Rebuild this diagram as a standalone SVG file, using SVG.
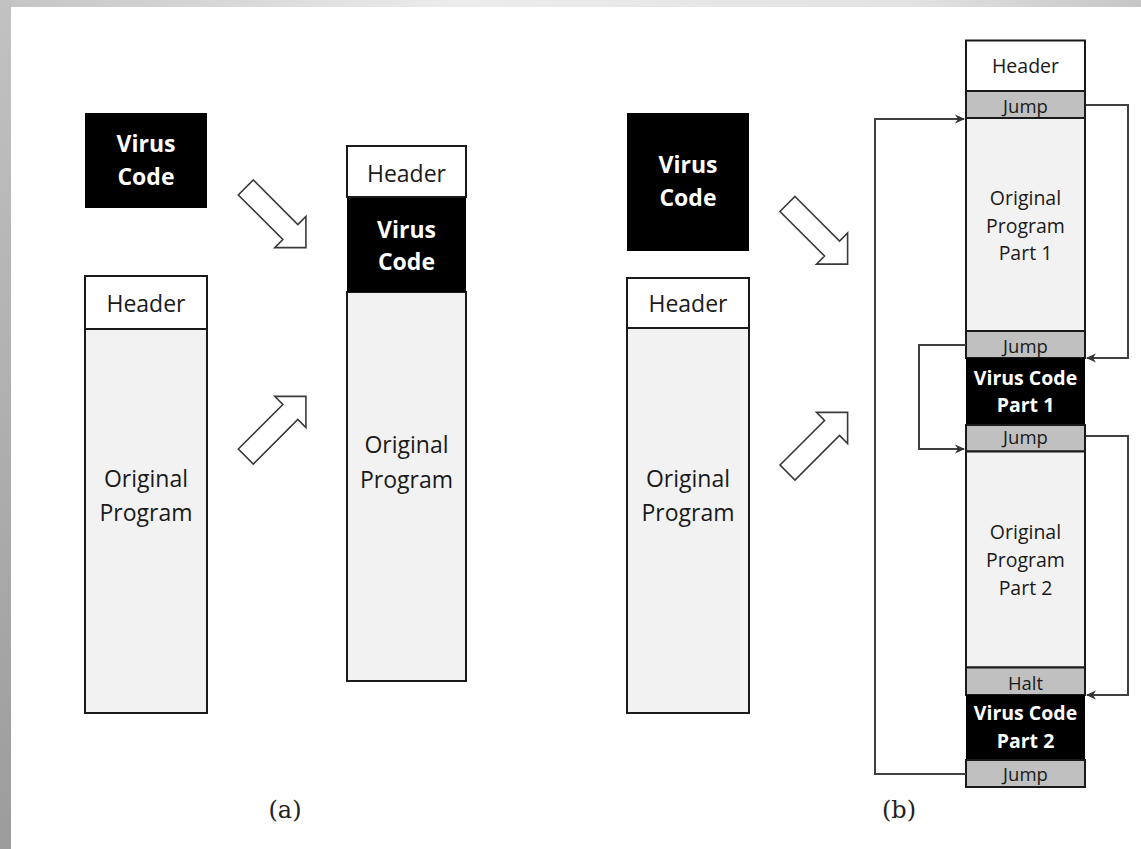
<svg xmlns="http://www.w3.org/2000/svg" width="1141" height="849" viewBox="0 0 1141 849">
<defs>
<linearGradient id="gTop" x1="0" y1="0" x2="1" y2="0">
<stop offset="0" stop-color="#c4c4c4"/>
<stop offset="0.4" stop-color="#ececec"/>
<stop offset="0.8" stop-color="#e2e2e2"/>
<stop offset="1" stop-color="#c6c6c6"/>
</linearGradient>
<linearGradient id="gLeft" x1="0" y1="0" x2="0" y2="1">
<stop offset="0" stop-color="#c2c2c2"/>
<stop offset="1" stop-color="#9c9c9c"/>
</linearGradient>
<marker id="ah" markerUnits="userSpaceOnUse" markerWidth="12" markerHeight="12" refX="9" refY="6" orient="auto">
<path d="M0,1.5 L10,6 L0,10.5 L3,6 Z" fill="#333"/>
</marker>
<path id="blockArrow" d="M0,-10.6 L63,-10.6 L63,-22 L85,0 L63,22 L63,10.6 L0,10.6 Z"/>
</defs>
<style>
.bg{fill:#ffffff}
.box{stroke:#1a1a1a;stroke-width:2}
.white{fill:#ffffff}
.light{fill:#f2f2f2}
.black{fill:#000000}
.gray{fill:#c0c0c0}
.t{font-family:"Open Sans","Liberation Sans",sans-serif;fill:#1a1a1a;text-anchor:middle}
.ta{font-size:23px}
.tb{font-size:19.5px}
.tj{font-size:18.5px}
.w{fill:#ffffff;font-weight:bold}
.hollow{fill:#ffffff;stroke:#3a3a3a;stroke-width:1.6;stroke-linejoin:miter}
.conn{fill:none;stroke:#404040;stroke-width:2}
.lbl{font-family:"DejaVu Serif","Liberation Serif",serif;font-size:24px;fill:#222;text-anchor:middle}
</style>
<rect class="bg" x="0" y="0" width="1141" height="849"/>
<rect x="0" y="0" width="1141" height="7" fill="url(#gTop)"/>
<rect x="0" y="0" width="11" height="849" fill="url(#gLeft)"/>

<!-- (a) -->
<g id="a-virus">
<rect class="black" x="85" y="113" width="122" height="95"/>
<text class="t ta w" x="146" y="152">Virus</text>
<text class="t ta w" x="146" y="185">Code</text>
</g>
<g id="a-program">
<rect class="box light" x="85" y="329" width="122" height="384"/>
<rect class="box white" x="85" y="276" width="122" height="53"/>
<text class="t ta" x="146" y="312">Header</text>
<text class="t ta" x="146" y="487">Original</text>
<text class="t ta" x="146" y="521">Program</text>
</g>
<g id="a-infected">
<rect class="box light" x="347" y="292" width="119" height="389"/>
<rect class="black" x="347" y="197" width="119" height="95"/>
<rect class="box white" x="347" y="146" width="119" height="51"/>
<text class="t ta" x="406.5" y="182">Header</text>
<text class="t ta w" x="406.5" y="238">Virus</text>
<text class="t ta w" x="406.5" y="270">Code</text>
<text class="t ta" x="406.5" y="453">Original</text>
<text class="t ta" x="406.5" y="488">Program</text>
</g>
<g id="a-arrows">
<use href="#blockArrow" class="hollow" transform="translate(245.8,187.5) rotate(45)"/>
<use href="#blockArrow" class="hollow" transform="translate(245.8,456.5) rotate(-45)"/>
</g>
<text class="lbl" x="285" y="818">(a)</text>

<!-- (b) -->
<g id="b-virus">
<rect class="black" x="627" y="113" width="122" height="138"/>
<text class="t ta w" x="688" y="173">Virus</text>
<text class="t ta w" x="688" y="206">Code</text>
</g>
<g id="b-program">
<rect class="box light" x="627" y="328" width="122" height="385"/>
<rect class="box white" x="627" y="278" width="122" height="50"/>
<text class="t ta" x="688" y="312">Header</text>
<text class="t ta" x="688" y="487">Original</text>
<text class="t ta" x="688" y="521">Program</text>
</g>
<g id="b-arrows">
<use href="#blockArrow" class="hollow" transform="translate(787.5,204) rotate(45)"/>
<use href="#blockArrow" class="hollow" transform="translate(787.5,472.5) rotate(-45)"/>
</g>
<g id="b-infected">
<rect class="box white" x="966" y="40.5" width="119" height="50.5"/>
<text class="t tb" x="1025.5" y="73">Header</text>
</g>
<g id="b-jump1">
<rect class="box gray" x="966" y="91" width="119" height="27"/>
<text class="t tj" x="1025.5" y="113">Jump</text>
</g>
<g id="b-orig1">
<rect class="box light" x="966" y="118" width="119" height="213"/>
<text class="t tb" x="1025.5" y="205">Original</text>
<text class="t tb" x="1025.5" y="233">Program</text>
<text class="t tb" x="1025.5" y="260">Part 1</text>
</g>
<g id="b-jump2">
<rect class="box gray" x="966" y="331" width="119" height="27"/>
<text class="t tj" x="1025.5" y="353">Jump</text>
</g>
<g id="b-virus1">
<rect class="black" x="966" y="358" width="119" height="67"/>
<text class="t tb w" x="1025.5" y="385" font-size="18.5">Virus Code</text>
<text class="t tb w" x="1025.5" y="412" font-size="18.5">Part 1</text>
</g>
<g id="b-jump3">
<rect class="box gray" x="966" y="425" width="119" height="26.5"/>
<text class="t tj" x="1025.5" y="444">Jump</text>
</g>
<g id="b-orig2">
<rect class="box light" x="966" y="451.5" width="119" height="216"/>
<text class="t tb" x="1025.5" y="539">Original</text>
<text class="t tb" x="1025.5" y="567">Program</text>
<text class="t tb" x="1025.5" y="595">Part 2</text>
</g>
<g id="b-halt">
<rect class="box gray" x="966" y="667.5" width="119" height="27.5"/>
<text class="t tj" x="1025.5" y="690">Halt</text>
</g>
<g id="b-virus2">
<rect class="black" x="966" y="695" width="119" height="65"/>
<text class="t tb w" x="1025.5" y="720" font-size="18.5">Virus Code</text>
<text class="t tb w" x="1025.5" y="748" font-size="18.5">Part 2</text>
</g>
<g id="b-jump4">
<rect class="box gray" x="966" y="760" width="119" height="27"/>
<text class="t tj" x="1025.5" y="781">Jump</text>
</g>
<g id="connectors">
<path class="conn" d="M1086,105 H1128 V358 H1087" marker-end="url(#ah)"/>
<path class="conn" d="M1086,436 H1128 V695 H1087" marker-end="url(#ah)"/>
<path class="conn" d="M966,345 H919 V449 H964" marker-end="url(#ah)"/>
<path class="conn" d="M966,774 H875 V119 H964" marker-end="url(#ah)"/>
</g>
<text class="lbl" x="899" y="818">(b)</text>
</svg>
